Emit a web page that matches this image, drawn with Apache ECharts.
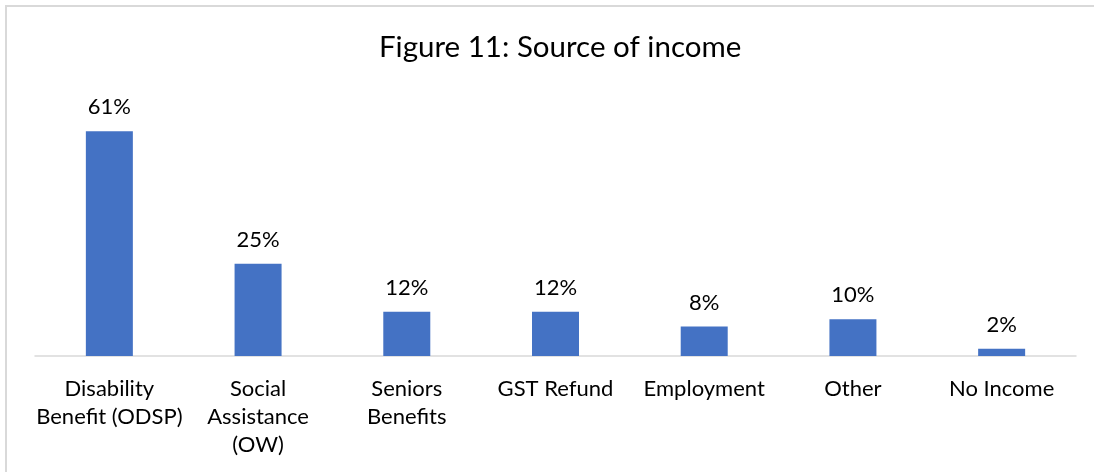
<!DOCTYPE html>
<html>
<head>
<meta charset="utf-8">
<script src="https://cdn.jsdelivr.net/npm/echarts@6/dist/echarts.min.js"></script>
<style>
html,body{margin:0;padding:0;background:#fff;}
#chart{width:1094px;height:472px;}
</style>
</head>
<body>
<div id="chart"></div>
<script>
const titleText = "Figure 11: Source of income";
const categories = ["Disability\nBenefit (ODSP)", "Social\nAssistance\n(OW)", "Seniors\nBenefits", "GST Refund", "Employment", "Other", "No Income"];
const values = [61, 25, 12, 12, 8, 10, 2];

const FONT = "Lato";
const chart = echarts.init(document.getElementById('chart'), null, {renderer: 'canvas'});
chart.setOption({
  animation: false,
  backgroundColor: '#fff',
  title: {
    text: titleText,
    left: 374,
    top: 27,
    textStyle: {fontFamily: FONT, fontSize: 29.5, fontWeight: 'normal', color: '#000'}
  },
  graphic: [{
    type: 'rect',
    shape: {x: 6, y: 6, width: 1200, height: 600},
    style: {fill: 'none', stroke: '#d9d9d9', lineWidth: 2},
    silent: true
  }],
  grid: {left: 35, right: 18, top: 98, bottom: 116},
  xAxis: {
    type: 'category',
    data: categories,
    axisLine: {lineStyle: {color: '#d9d9d9', width: 1.5}},
    axisTick: {show: false},
    axisLabel: {
      interval: 0,
      margin: 19,
      fontFamily: FONT,
      fontSize: 22,
      lineHeight: 28,
      color: '#000'
    }
  },
  yAxis: {
    type: 'value',
    min: 0,
    max: 70,
    show: false,
    splitLine: {show: false}
  },
  series: [{
    type: 'bar',
    data: values,
    barWidth: 47,
    itemStyle: {color: '#4472C4'},
    label: {
      show: true,
      position: 'top',
      distance: 13,
      formatter: '{c}%',
      fontFamily: FONT,
      fontSize: 22,
      color: '#000'
    }
  }]
});
</script>
</body>
</html>
